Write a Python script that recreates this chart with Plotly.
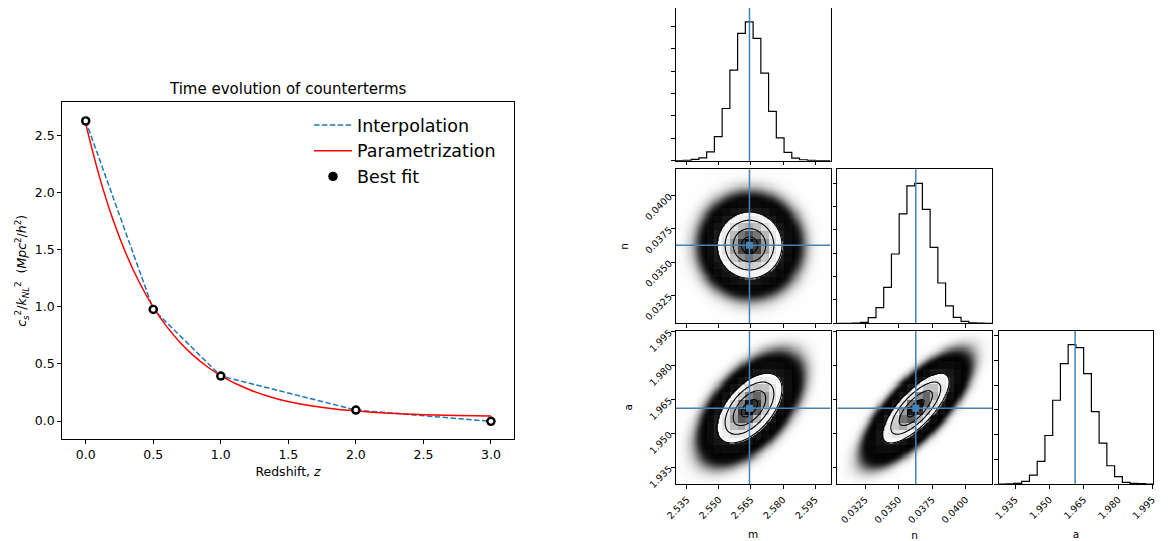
import numpy as np
import plotly.graph_objects as go

# ---------------- left panel: time evolution of counterterms ----------------
z_best = [0.0, 0.5, 1.0, 2.0, 3.0]
c_best = [2.627, 0.977, 0.394, 0.096, -0.003]
z_param = [0.0, 0.1, 0.2, 0.3, 0.4, 0.5, 0.6, 0.7, 0.8, 0.9, 1.0,
           1.2, 1.4, 1.6, 1.8, 2.0, 2.25, 2.5, 2.75, 3.0]
c_param = [2.601, 2.144, 1.768, 1.460, 1.206, 0.997, 0.826, 0.685, 0.570, 0.475, 0.396,
           0.280, 0.200, 0.147, 0.111, 0.087, 0.067, 0.055, 0.048, 0.043]
x_ticks_left = [0.0, 0.5, 1.0, 1.5, 2.0, 2.5, 3.0]
y_ticks_left = [0.0, 0.5, 1.0, 1.5, 2.0, 2.5]

# ---------------- corner plot ----------------
names = ["m", "n", "a"]
truth_m, truth_n, truth_a = 2.5643, 0.03628, 1.9612
range_m = [2.5298, 2.6022]
range_n = [0.03043, 0.04196]
range_a = [1.9277, 1.9954]
sigma_m, sigma_n, sigma_a = 0.0076, 0.00124, 0.0077
rho_mn, rho_ma, rho_na = 0.0, 0.55, 0.75
hist_m = [0.0, 0.002, 0.010, 0.021, 0.064, 0.174, 0.376, 0.652, 0.917, 1.0,
          0.881, 0.631, 0.355, 0.164, 0.060, 0.019, 0.007, 0.003, 0.001, 0.0]
hist_n = [0.0, 0.0, 0.002, 0.007, 0.040, 0.112, 0.257, 0.495, 0.781, 0.981,
          1.0, 0.814, 0.543, 0.288, 0.124, 0.043, 0.014, 0.003, 0.001, 0.0]
hist_a = [0.0, 0.001, 0.005, 0.019, 0.064, 0.162, 0.348, 0.601, 0.864, 1.0,
          0.979, 0.792, 0.520, 0.294, 0.131, 0.053, 0.012, 0.005, 0.002, 0.0]
ticks_m = [2.535, 2.550, 2.565, 2.580, 2.595]
ticks_n = [0.0325, 0.0350, 0.0375, 0.0400]
ticks_a = [1.935, 1.950, 1.965, 1.980, 1.995]
contour_sigmas = [0.5, 1.0, 1.5, 2.0]

P = {
    "m": dict(truth=truth_m, rng=range_m, sig=sigma_m, hist=hist_m, ticks=ticks_m, fmt="{:.3f}", dtick=0.1615),
    "n": dict(truth=truth_n, rng=range_n, sig=sigma_n, hist=hist_n, ticks=ticks_n, fmt="{:.4f}", dtick=0.167),
    "a": dict(truth=truth_a, rng=range_a, sig=sigma_a, hist=hist_a, ticks=ticks_a, fmt="{:.3f}", dtick=0.1774),
}
RHO = {("m", "n"): rho_mn, ("m", "a"): rho_ma, ("n", "a"): rho_na}

TRUTH = "#4682b4"
FONT = "DejaVu Sans"
OFF = 8                      # default page body margin
W, H = 1173 - OFF, 541 - OFF
NF = 150                     # resolution of the rendered sample cloud
N_PEAK = 2000.0              # overlapping translucent dots at the cloud centre

col_px = [(675.7, 830.5), (837.3, 992.0), (998.5, 1153.3)]
row_px = [(7.3, 160.7), (169.3, 323.3), (330.7, 484.0)]
clamp = lambda v: min(1.0, max(0.0, v))
fx = lambda p: clamp((p - OFF) / W)
fy = lambda p: clamp(1 - (p - OFF) / H)
xdom = lambda p: [fx(p[0]), fx(p[1])]
ydom = lambda p: [fy(p[1]), fy(p[0])]

fig = go.Figure()
layout = dict(width=W, height=H, margin=dict(l=0, r=0, t=0, b=0),
              paper_bgcolor="white", plot_bgcolor="white",
              font=dict(family=FONT, color="black"), shapes=[], annotations=[])


def base_axis(**kw):
    d = dict(showline=True, linecolor="black", linewidth=1, mirror=True, ticks="outside",
             ticklen=3.5, tickwidth=0.8, tickcolor="black", showgrid=False, zeroline=False,
             automargin=False, tickfont=dict(size=9.5, family=FONT, color="black"))
    d.update(kw)
    return d


# ---------------- left panel traces ----------------
fig.add_trace(go.Scatter(x=z_best, y=c_best, mode="lines", name="Interpolation",
                         line=dict(color="#1f77b4", width=1.5, dash="5.5px,2.4px"),
                         xaxis="x", yaxis="y"))
fig.add_trace(go.Scatter(x=z_param, y=c_param, mode="lines", name="Parametrization",
                         line=dict(color="#ff0000", width=1.5, shape="spline"),
                         xaxis="x", yaxis="y"))
fig.add_trace(go.Scatter(x=z_best, y=c_best, mode="markers", name="Best fit",
                         marker=dict(color="black", size=9.5), xaxis="x", yaxis="y"))
fig.add_trace(go.Scatter(x=z_best, y=c_best, mode="markers", showlegend=False,
                         marker=dict(color="white", size=4.6), xaxis="x", yaxis="y",
                         hoverinfo="skip"))

layout["xaxis"] = base_axis(domain=[fx(61.7), fx(514.3)], range=[-0.178, 3.173], anchor="y",
                            tickvals=x_ticks_left, ticktext=[f"{v:.1f}" for v in x_ticks_left],
                            tickfont=dict(size=12.5, family=FONT, color="black"),
                            title=dict(text="Redshift, <i>z</i>", font=dict(size=12.5), standoff=6))
layout["yaxis"] = base_axis(domain=[fy(439.3), fy(102.3)], range=[-0.16, 2.79], anchor="x",
                            tickvals=y_ticks_left, ticktext=[f"{v:.1f}" for v in y_ticks_left],
                            tickfont=dict(size=12.5, family=FONT, color="black"),
                            title=dict(text="<i>c</i><sub><i>s</i></sub><sup>2</sup>/<i>k</i><sub><i>NL</i></sub><sup>2</sup>"
                                            "  (<i>Mpc</i><sup>2</sup>/<i>h</i><sup>2</sup>)",
                                       font=dict(size=12.5), standoff=5))
layout["annotations"].append(dict(text="Time evolution of counterterms", x=fx((61.7 + 514.3) / 2),
                                  y=fy(89.5), xref="paper", yref="paper", showarrow=False,
                                  xanchor="center", yanchor="middle", font=dict(size=15)))
layout["legend"] = dict(x=fx(309), y=fy(107), xanchor="left", yanchor="top",
                        bgcolor="rgba(0,0,0,0)", font=dict(size=17.5, family=FONT),
                        itemwidth=38)

# ---------------- corner plot ----------------
idx = 2
for i in range(3):
    for j in range(i + 1):
        xa, ya = f"x{idx}", f"y{idx}"
        px, py = names[j], names[i]
        X = P[px]
        xkw = dict(domain=xdom(col_px[j]), range=X["rng"], anchor=ya, tickvals=X["ticks"],
                   ticktext=[X["fmt"].format(v) for v in X["ticks"]], showticklabels=(i == 2),
                   tickangle=-45, ticklabelstandoff=2)
        if i == 2:
            xkw["title"] = dict(text=px, font=dict(size=10.5), standoff=10)
        if i == j:
            edges = np.linspace(X["rng"][0], X["rng"][1], len(X["hist"]) + 1)
            fig.add_trace(go.Scatter(x=edges, y=list(X["hist"]) + [X["hist"][-1]], mode="lines",
                                     line=dict(color="black", width=1.2, shape="hv"),
                                     showlegend=False, hoverinfo="skip", xaxis=xa, yaxis=ya))
            ykw = dict(domain=ydom(row_px[i]), range=[0, 1.1], anchor=xa, tick0=0,
                       dtick=X["dtick"], tickmode="linear", showticklabels=False)
            layout["shapes"].append(dict(type="line", xref=xa, yref=f"{ya} domain", x0=X["truth"],
                                         x1=X["truth"], y0=0, y1=1,
                                         line=dict(color=TRUTH, width=1.5)))
        else:
            Y = P[py]
            rho = RHO[(px, py)]
            xs = np.linspace(X["rng"][0], X["rng"][1], NF)
            ys = np.linspace(Y["rng"][0], Y["rng"][1], NF)
            GX, GY = np.meshgrid(xs, ys)
            dx = (GX - X["truth"]) / X["sig"]
            dy = (GY - Y["truth"]) / Y["sig"]
            rr = np.sqrt((dx * dx - 2 * rho * dx * dy + dy * dy) / (1 - rho * rho))
            cover = 1 - 0.9 ** (N_PEAK / np.sqrt(1 - rho * rho) * np.exp(-rr * rr / 2))
            zc = np.where(rr < contour_sigmas[-1], 1.0, 0.5 * cover)
            fig.add_trace(go.Heatmap(x=xs, y=ys, z=np.round(zc, 3), zmin=0, zmax=1, zsmooth="best",
                                     colorscale=[[0, "rgba(0,0,0,0)"], [0.5, "rgba(0,0,0,1)"],
                                                 [1, "rgba(255,255,255,1)"]],
                                     showscale=False, hoverinfo="skip", xaxis=xa, yaxis=ya))
            # 20x20 density cells
            nb = len(X["hist"])
            xc = X["rng"][0] + (np.arange(nb) + 0.5) * (X["rng"][1] - X["rng"][0]) / nb
            yc = Y["rng"][0] + (np.arange(nb) + 0.5) * (Y["rng"][1] - Y["rng"][0]) / nb
            CX, CY = np.meshgrid(xc, yc)
            cdx = (CX - X["truth"]) / X["sig"]
            cdy = (CY - Y["truth"]) / Y["sig"]
            cr2 = (cdx * cdx - 2 * rho * cdx * cdy + cdy * cdy) / (1 - rho * rho)
            fig.add_trace(go.Heatmap(x=xc, y=yc, z=np.round(1 - np.exp(-cr2 / 2), 4), zmin=0, zmax=1,
                                     colorscale=[[0, "rgba(0,0,0,1)"], [1, "rgba(255,255,255,0)"]],
                                     showscale=False, hoverinfo="skip", xaxis=xa, yaxis=ya))
            fig.add_trace(go.Contour(x=xs, y=ys, z=np.round(rr, 3),
                                     contours=dict(start=contour_sigmas[0], end=contour_sigmas[-1],
                                                   size=contour_sigmas[1] - contour_sigmas[0],
                                                   coloring="lines"),
                                     colorscale=[[0, "black"], [1, "black"]], line=dict(width=1.1),
                                     showscale=False, hoverinfo="skip", xaxis=xa, yaxis=ya))
            fig.add_trace(go.Scatter(x=[X["truth"]], y=[Y["truth"]], mode="markers",
                                     marker=dict(symbol="square", size=7, color=TRUTH),
                                     showlegend=False, hoverinfo="skip", xaxis=xa, yaxis=ya))
            ykw = dict(domain=ydom(row_px[i]), range=Y["rng"], anchor=xa, tickvals=Y["ticks"],
                       ticktext=[Y["fmt"].format(v) for v in Y["ticks"]], showticklabels=(j == 0),
                       tickangle=-45)
            if j == 0:
                ykw["title"] = dict(text=py, font=dict(size=10.5), standoff=12)
            layout["shapes"].append(dict(type="line", xref=xa, yref=f"{ya} domain", x0=X["truth"],
                                         x1=X["truth"], y0=0, y1=1,
                                         line=dict(color=TRUTH, width=1.5)))
            layout["shapes"].append(dict(type="line", xref=f"{xa} domain", yref=ya, x0=0, x1=1,
                                         y0=Y["truth"], y1=Y["truth"],
                                         line=dict(color=TRUTH, width=1.5)))
        layout[f"xaxis{idx}"] = base_axis(**xkw)
        layout[f"yaxis{idx}"] = base_axis(**ykw)
        idx += 1

fig.update_layout(**layout)
fig.write_html("out.html")
